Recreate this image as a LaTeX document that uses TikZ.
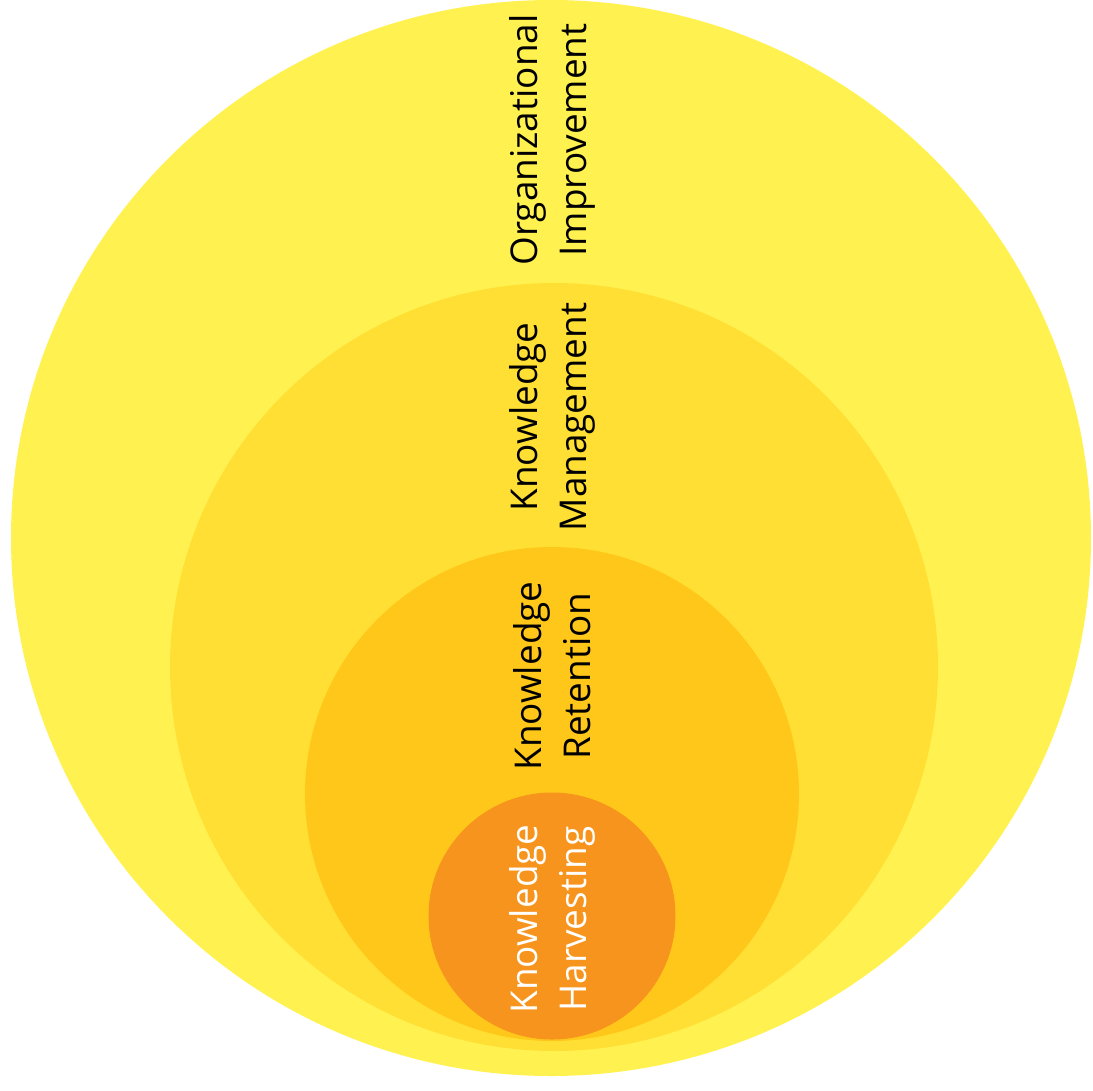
\documentclass[tikz,border=0pt]{standalone}
\usepackage{fontspec}
\setmainfont{Open Sans}
\definecolor{ringouter}{HTML}{FFF250}
\definecolor{ringmid}{HTML}{FFDF33}
\definecolor{ringinner}{HTML}{FFC719}
\definecolor{ringcore}{HTML}{F7941D}

\begin{document}
\begin{tikzpicture}[x=0.02cm,y=-0.02cm,
	ringlabel/.style={rotate=90, align=center, inner sep=0pt,
	   font=\fontsize{21}{27.8}\selectfont}]
	\useasboundingbox (0,0) rectangle (1093,1090);
	
	\fill [ringouter] (551,538) ellipse (540 and 538);
	\fill [ringmid] (554,667) circle (384);
	\fill [ringinner] (552,794) circle (247);
	\fill [ringcore] (552,916) circle (123.5);
	
	\node [ringlabel] (improve) at (552,140) {Organizational\\Improvement};
	\node [ringlabel] (manage) at (552,417) {Knowledge\\Management};
	\node [ringlabel] (retain) at (552,676) {Knowledge\\Retention};
	\node [ringlabel, text=white] (harvest) at (552,919) {Knowledge\\Harvesting};
\end{tikzpicture}
\end{document}
